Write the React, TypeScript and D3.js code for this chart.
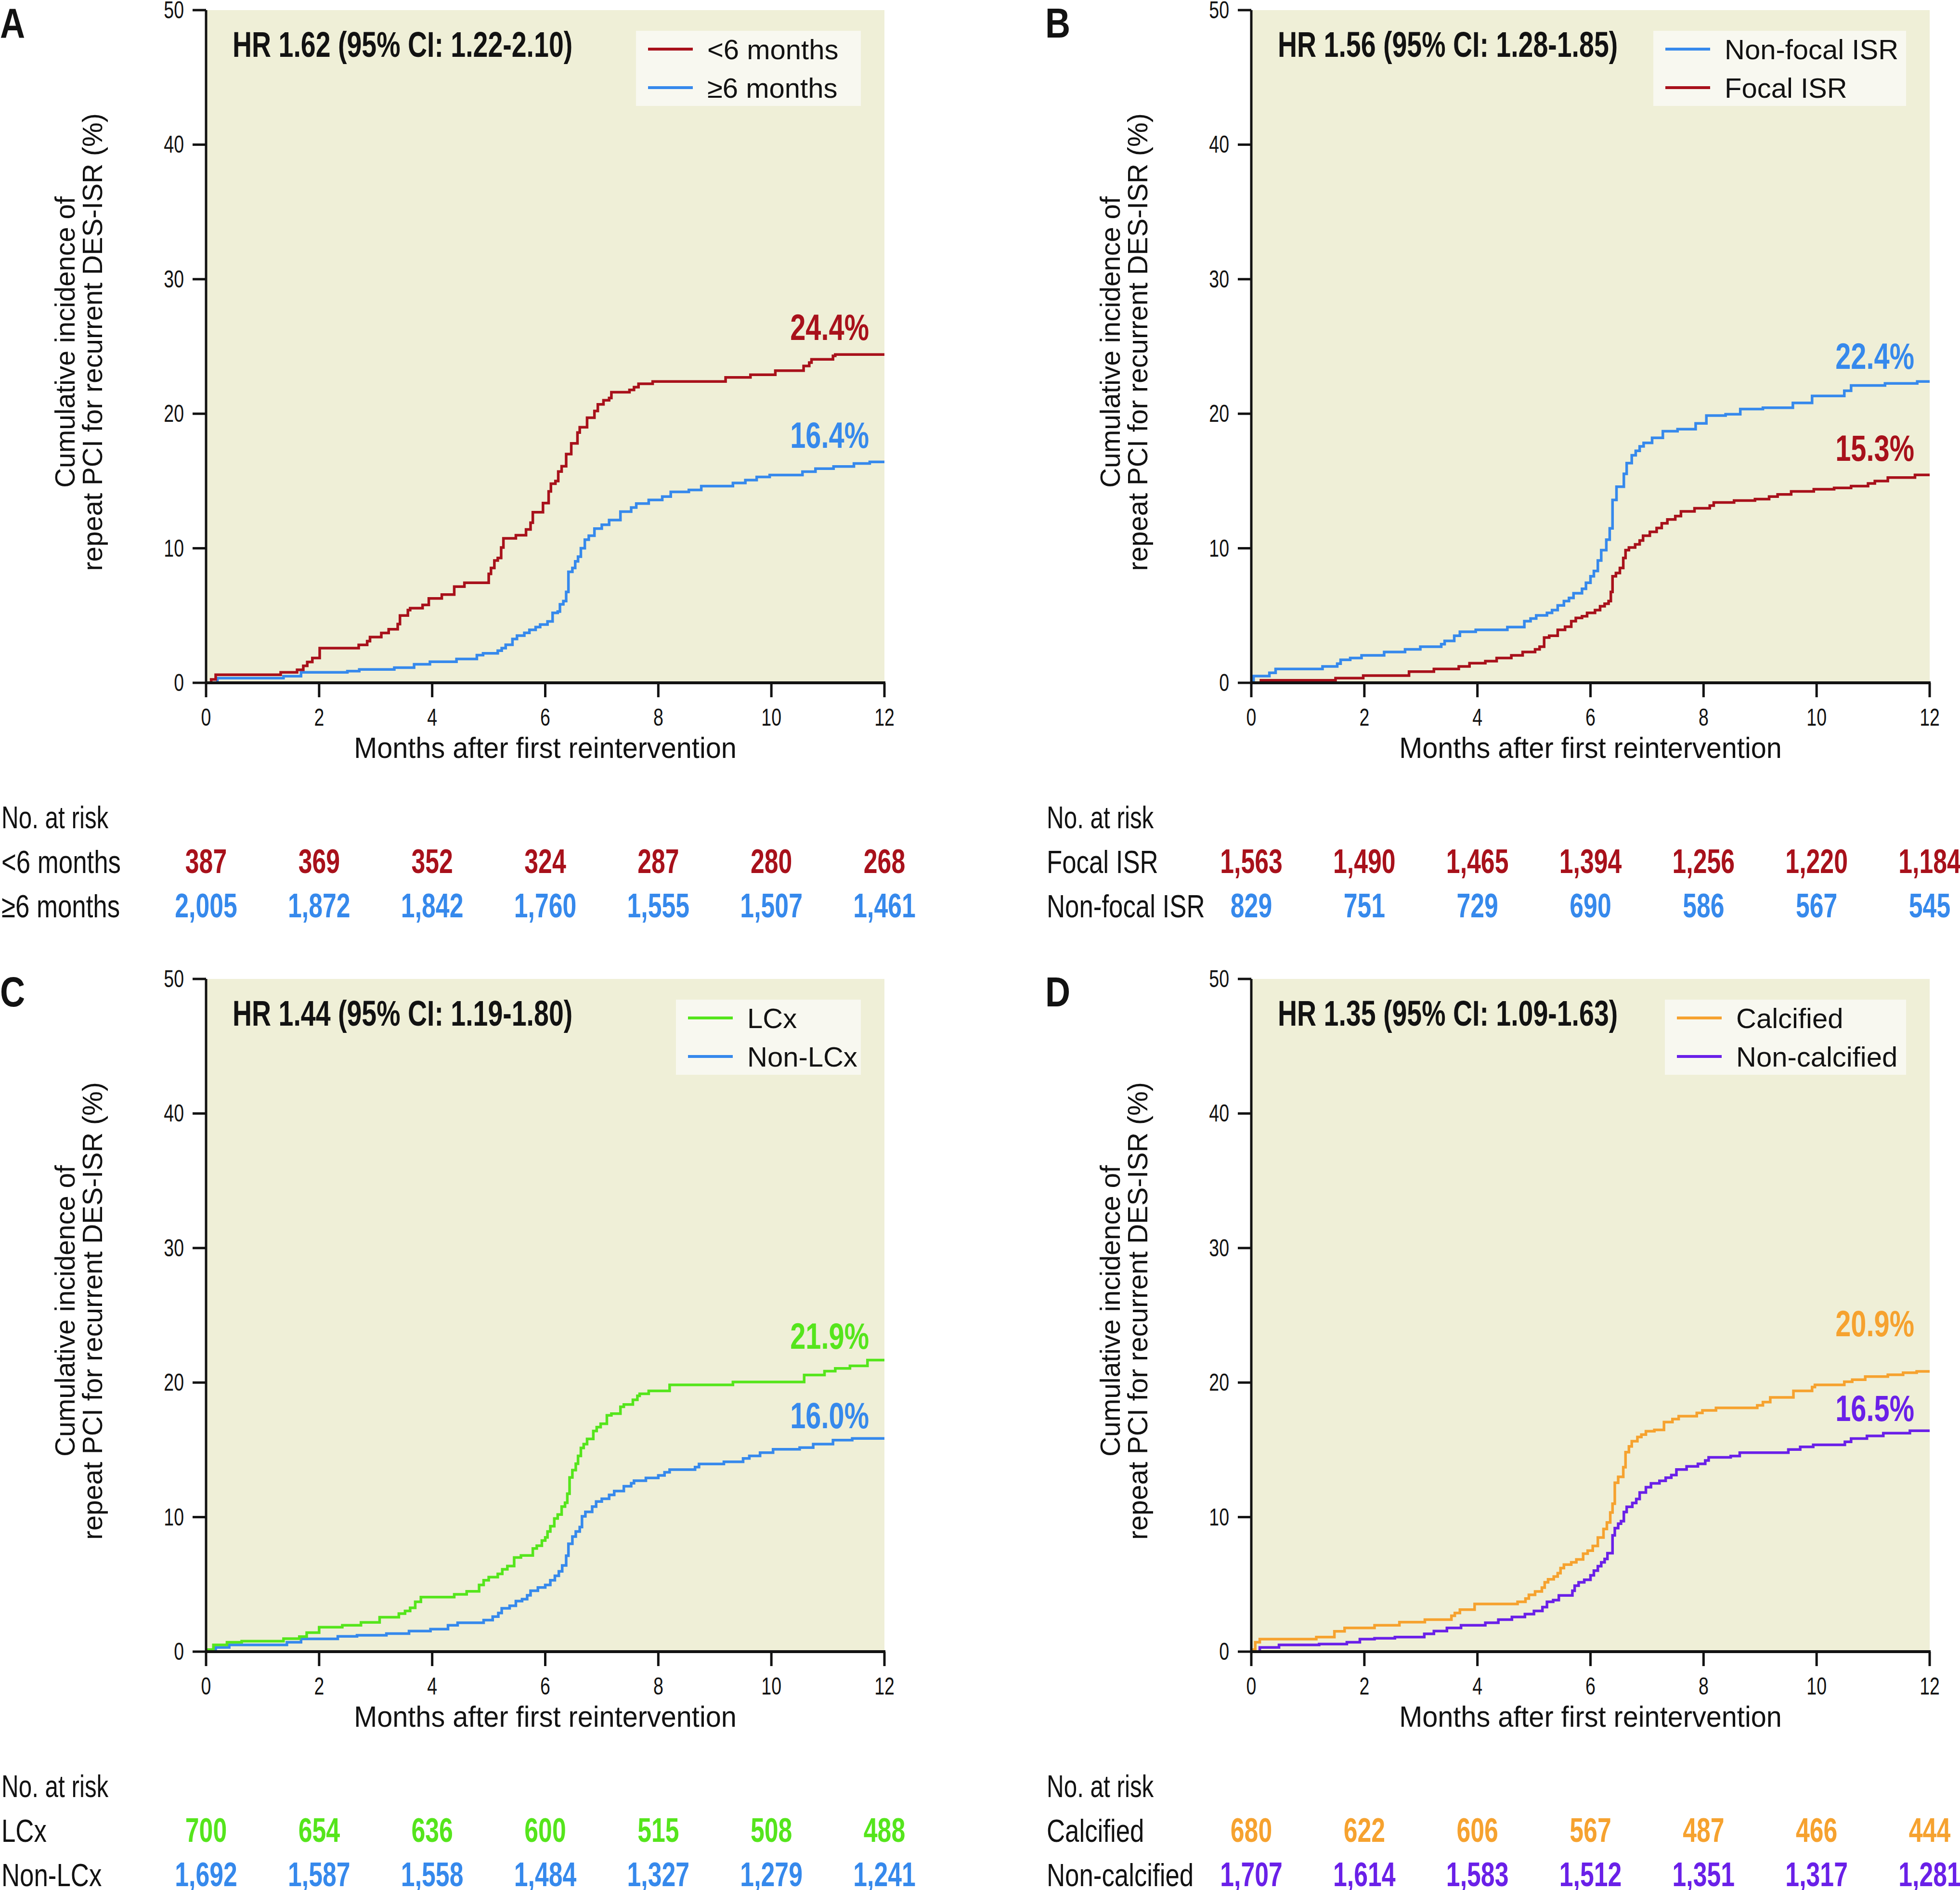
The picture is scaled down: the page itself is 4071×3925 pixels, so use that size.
import React from 'react';
import * as d3 from 'd3';

const W = 4071;
const H = 3925;
const FONT = '"Liberation Sans", Arial, Helvetica, sans-serif';

const RED = '#A8111B';
const BLUE = '#3689EC';
const GREEN = '#55E51C';
const ORANGE = '#F6A22F';
const PURPLE = '#6A20E8';
const BG = '#EFEFD7';
const LEGEND_BG = '#F8F8F0';
const INK = '#121212';

const yTicks = [0, 10, 20, 30, 40, 50];
const xTicks = [0, 2, 4, 6, 8, 10, 12];
const xTitle = 'Months after first reintervention';
const yTitle1 = 'Cumulative incidence of';
const yTitle2 = 'repeat PCI for recurrent DES-ISR (%)';

// ---------- Panel A ----------
const aLt6Steps: [number, number][] = [
  [0.09, 0.25], [0.17, 0.6], [1.32, 0.78], [1.61, 0.97], [1.72, 1.26], [1.79, 1.55], [1.88, 1.84], [2.01, 2.58],
  [2.7, 2.82], [2.85, 3.1], [2.9, 3.4], [3.1, 3.7], [3.23, 3.98], [3.39, 4.37], [3.43, 5.0], [3.57, 5.4],
  [3.61, 5.55], [3.83, 5.79], [3.94, 6.27], [4.17, 6.56], [4.39, 7.15], [4.57, 7.44], [5.0, 8.1], [5.04, 8.54],
  [5.1, 9.09], [5.16, 9.28], [5.22, 10.06], [5.26, 10.74], [5.48, 10.97], [5.66, 11.4], [5.74, 11.9], [5.78, 12.68],
  [5.96, 13.36], [6.06, 14.23], [6.1, 14.8], [6.18, 15.0], [6.23, 15.7], [6.29, 16.1], [6.37, 17.0], [6.46, 17.8],
  [6.57, 18.6], [6.61, 19.0], [6.74, 19.7], [6.87, 20.2], [6.93, 20.7], [7.03, 21.0], [7.13, 21.17], [7.17, 21.6],
  [7.49, 21.77], [7.57, 21.98], [7.65, 22.23], [7.9, 22.4], [9.19, 22.7], [9.63, 22.9], [10.07, 23.2], [10.57, 23.55],
  [10.67, 23.8], [10.71, 24.04], [11.09, 24.3], [11.13, 24.4],
];
const aGe6Steps: [number, number][] = [
  [0.2, 0.35], [1.37, 0.49], [1.68, 0.78], [2.5, 0.87], [2.71, 0.99], [3.33, 1.13], [3.68, 1.38], [3.96, 1.57],
  [4.43, 1.77], [4.79, 2.06], [4.9, 2.19], [5.16, 2.39], [5.23, 2.58], [5.3, 2.83], [5.42, 3.26], [5.5, 3.51],
  [5.63, 3.71], [5.72, 3.94], [5.83, 4.14], [5.91, 4.33], [6.04, 4.56], [6.13, 5.2], [6.22, 5.3], [6.26, 5.83],
  [6.32, 6.08], [6.37, 6.76], [6.41, 8.25], [6.48, 8.54], [6.53, 9.03], [6.58, 9.38], [6.63, 10.0], [6.7, 10.64],
  [6.77, 10.93], [6.87, 11.46], [7.0, 11.75], [7.13, 12.1], [7.33, 12.72], [7.52, 13.03], [7.61, 13.32], [7.83, 13.59],
  [8.07, 13.84], [8.22, 14.19], [8.54, 14.33], [8.76, 14.62], [9.32, 14.85], [9.54, 15.07], [9.74, 15.3], [9.97, 15.44],
  [10.55, 15.69], [10.78, 15.92], [11.1, 16.08], [11.46, 16.3], [11.74, 16.42],
];
const aRiskLt6 = [387, 369, 352, 324, 287, 280, 268];
const aRiskGe6 = [2005, 1872, 1842, 1760, 1555, 1507, 1461];

// ---------- Panel B ----------
const bNonFocalSteps: [number, number][] = [
  [0.04, 0.5], [0.32, 0.74], [0.43, 1.03], [1.26, 1.22], [1.52, 1.42], [1.58, 1.71], [1.75, 1.84], [1.95, 2.04],
  [2.35, 2.29], [2.72, 2.49], [2.99, 2.68], [3.36, 2.87], [3.42, 3.11], [3.59, 3.5], [3.69, 3.79], [3.97, 3.94],
  [4.53, 4.14], [4.83, 4.58], [4.94, 4.78], [5.04, 5.01], [5.23, 5.2], [5.32, 5.4], [5.42, 5.75], [5.53, 6.08],
  [5.62, 6.31], [5.7, 6.66], [5.85, 6.99], [5.92, 7.44], [6.0, 7.92], [6.06, 8.31], [6.13, 9.09], [6.19, 9.86],
  [6.28, 10.64], [6.34, 11.48], [6.39, 13.59], [6.46, 14.58], [6.59, 15.53], [6.64, 16.33], [6.73, 16.91], [6.8, 17.24],
  [6.87, 17.57], [6.94, 17.83], [7.09, 18.21], [7.28, 18.7], [7.54, 18.85], [7.86, 19.28], [8.05, 19.86], [8.39, 19.96],
  [8.65, 20.35], [9.05, 20.45], [9.58, 20.8], [9.92, 21.32], [10.49, 21.71], [10.61, 22.1], [11.21, 22.25], [11.78, 22.4],
];
const bFocalSteps: [number, number][] = [
  [0.17, 0.19], [1.49, 0.35], [1.98, 0.54], [2.79, 0.83], [3.23, 1.03], [3.67, 1.22], [3.86, 1.46], [4.14, 1.61],
  [4.34, 1.84], [4.6, 2.04], [4.8, 2.29], [5.02, 2.49], [5.1, 2.68], [5.18, 3.36], [5.27, 3.5], [5.42, 3.94],
  [5.55, 4.17], [5.66, 4.58], [5.74, 4.82], [5.85, 4.95], [5.94, 5.2], [6.08, 5.4], [6.17, 5.69], [6.25, 5.88],
  [6.32, 6.08], [6.36, 6.76], [6.39, 7.92], [6.45, 8.16], [6.52, 8.54], [6.58, 9.28], [6.62, 9.86], [6.68, 10.06],
  [6.79, 10.29], [6.87, 10.58], [6.93, 10.93], [7.05, 11.22], [7.17, 11.51], [7.26, 11.86], [7.36, 12.14], [7.5, 12.39],
  [7.6, 12.74], [7.84, 12.97], [8.11, 13.17], [8.18, 13.4], [8.54, 13.55], [8.91, 13.65], [9.16, 13.84], [9.31, 14.0],
  [9.55, 14.23], [9.95, 14.39], [10.31, 14.49], [10.61, 14.62], [10.91, 14.82], [11.03, 15.0], [11.26, 15.26], [11.74, 15.45],
];
const bRiskFocal = [1563, 1490, 1465, 1394, 1256, 1220, 1184];
const bRiskNonFocal = [829, 751, 729, 690, 586, 567, 545];

// ---------- Panel C ----------
const cLCxSteps: [number, number][] = [
  [0.03, 0.15], [0.13, 0.5], [0.37, 0.7], [0.63, 0.78], [1.37, 0.97], [1.65, 1.12], [1.78, 1.41], [2.0, 1.82],
  [2.41, 1.96], [2.74, 2.17], [3.07, 2.56], [3.41, 2.83], [3.52, 3.02], [3.61, 3.26], [3.7, 3.7], [3.8, 4.05],
  [4.39, 4.26], [4.61, 4.48], [4.83, 4.96], [4.91, 5.31], [5.0, 5.54], [5.16, 5.78], [5.24, 6.12], [5.33, 6.36],
  [5.45, 7.0], [5.57, 7.15], [5.78, 7.67], [5.85, 7.87], [5.94, 8.26], [6.0, 8.49], [6.04, 8.93], [6.09, 9.32],
  [6.16, 9.9], [6.22, 10.19], [6.29, 10.78], [6.35, 11.07], [6.39, 11.74], [6.43, 12.95], [6.48, 13.49], [6.54, 13.97],
  [6.58, 14.55], [6.63, 15.14], [6.68, 15.43], [6.74, 15.81], [6.85, 16.4], [6.91, 16.69], [6.98, 16.94], [7.09, 17.56],
  [7.17, 17.69], [7.33, 18.2], [7.39, 18.37], [7.55, 18.72], [7.63, 19.01], [7.67, 19.17], [7.83, 19.38], [8.2, 19.83],
  [9.32, 20.04], [10.58, 20.56], [10.94, 20.85], [11.13, 21.05], [11.39, 21.24], [11.7, 21.67],
];
const cNonLCxSteps: [number, number][] = [
  [0.17, 0.31], [0.41, 0.5], [1.43, 0.7], [1.68, 0.95], [2.33, 1.14], [2.67, 1.22], [3.19, 1.34], [3.59, 1.53],
  [3.97, 1.67], [4.28, 1.96], [4.45, 2.15], [4.91, 2.34], [5.07, 2.6], [5.17, 2.87], [5.23, 3.22], [5.37, 3.41],
  [5.48, 3.76], [5.59, 3.9], [5.68, 4.19], [5.74, 4.53], [5.87, 4.77], [6.0, 4.96], [6.09, 5.31], [6.17, 5.64],
  [6.24, 5.97], [6.3, 6.41], [6.37, 7.13], [6.41, 8.02], [6.48, 8.55], [6.54, 8.93], [6.61, 9.26], [6.65, 10.06],
  [6.71, 10.39], [6.83, 10.78], [6.9, 11.16], [7.0, 11.36], [7.13, 11.65], [7.22, 11.94], [7.39, 12.29], [7.52, 12.52],
  [7.57, 12.71], [7.78, 12.91], [8.0, 13.1], [8.11, 13.33], [8.2, 13.53], [8.65, 13.72], [8.72, 13.95], [9.16, 14.11],
  [9.5, 14.36], [9.61, 14.55], [9.8, 14.79], [10.03, 15.04], [10.5, 15.17], [10.74, 15.43], [11.09, 15.72], [11.43, 15.85],
];
const cRiskLCx = [700, 654, 636, 600, 515, 508, 488];
const cRiskNonLCx = [1692, 1587, 1558, 1484, 1327, 1279, 1241];

// ---------- Panel D ----------
const dCalcSteps: [number, number][] = [
  [0.02, 0.15], [0.07, 0.7], [0.15, 0.93], [1.15, 1.08], [1.47, 1.51], [1.65, 1.76], [2.18, 1.96], [2.62, 2.19],
  [3.07, 2.38], [3.54, 2.67], [3.6, 2.87], [3.69, 3.12], [3.95, 3.54], [4.71, 3.7], [4.85, 3.95], [4.91, 4.22],
  [5.02, 4.47], [5.14, 4.76], [5.19, 5.15], [5.25, 5.38], [5.35, 5.58], [5.42, 5.83], [5.47, 6.21], [5.53, 6.47],
  [5.66, 6.64], [5.75, 6.85], [5.87, 7.28], [5.95, 7.51], [6.04, 7.86], [6.13, 8.48], [6.23, 9.12], [6.29, 9.6],
  [6.35, 10.34], [6.39, 11.0], [6.43, 12.55], [6.49, 12.99], [6.58, 13.71], [6.62, 14.83], [6.68, 15.26], [6.73, 15.64],
  [6.83, 15.95], [6.9, 16.13], [6.98, 16.38], [7.13, 16.48], [7.3, 17.06], [7.45, 17.29], [7.56, 17.5], [7.88, 17.74],
  [7.98, 17.93], [8.22, 18.12], [8.95, 18.31], [9.05, 18.55], [9.18, 18.9], [9.59, 19.38], [9.92, 19.67], [9.97, 19.83],
  [10.49, 20.06], [10.63, 20.21], [10.86, 20.45], [11.26, 20.58], [11.53, 20.73], [11.77, 20.83],
];
const dNonCalcSteps: [number, number][] = [
  [0.15, 0.31], [0.49, 0.5], [1.2, 0.56], [1.69, 0.7], [1.92, 0.93], [2.18, 0.99], [2.54, 1.08], [3.06, 1.32],
  [3.23, 1.53], [3.46, 1.76], [3.71, 1.96], [4.14, 2.15], [4.37, 2.38], [4.61, 2.58], [4.84, 2.79], [5.0, 3.02],
  [5.15, 3.31], [5.23, 3.7], [5.34, 3.83], [5.44, 4.18], [5.68, 4.53], [5.72, 4.9], [5.79, 5.15], [5.89, 5.34],
  [6.0, 5.67], [6.06, 6.02], [6.13, 6.35], [6.19, 6.64], [6.25, 6.89], [6.3, 7.32], [6.39, 8.64], [6.43, 9.18],
  [6.49, 9.51], [6.54, 9.7], [6.59, 10.38], [6.64, 10.76], [6.74, 11.05], [6.81, 11.35], [6.87, 11.83], [6.98, 12.22],
  [7.07, 12.51], [7.22, 12.7], [7.33, 12.93], [7.43, 13.13], [7.52, 13.54], [7.7, 13.77], [7.9, 13.96], [8.03, 14.21],
  [8.09, 14.44], [8.48, 14.54], [8.64, 14.79], [9.5, 15.02], [9.71, 15.22], [9.94, 15.37], [10.5, 15.6], [10.61, 15.84],
  [10.89, 16.03], [11.18, 16.24], [11.65, 16.42],
];
const dRiskCalc = [680, 622, 606, 567, 487, 466, 444];
const dRiskNonCalc = [1707, 1614, 1583, 1512, 1351, 1317, 1281];

type Series = { name: string; color: string; steps: [number, number][]; endLabel: string; labelAt: number };
type RiskRow = { label: string; color: string; values: number[] };
type Panel = {
  letter: string; hr: string; left: number; top: number; legendWidth: number;
  series: Series[]; legend: Series[]; risk: RiskRow[];
};

const sALt6: Series = { name: '<6 months', color: RED, steps: aLt6Steps, endLabel: '24.4%', labelAt: 25.5 };
const sAGe6: Series = { name: '\u22656 months', color: BLUE, steps: aGe6Steps, endLabel: '16.4%', labelAt: 17.45 };
const sBNon: Series = { name: 'Non-focal ISR', color: BLUE, steps: bNonFocalSteps, endLabel: '22.4%', labelAt: 23.35 };
const sBFoc: Series = { name: 'Focal ISR', color: RED, steps: bFocalSteps, endLabel: '15.3%', labelAt: 16.5 };
const sCLCx: Series = { name: 'LCx', color: GREEN, steps: cLCxSteps, endLabel: '21.9%', labelAt: 22.5 };
const sCNon: Series = { name: 'Non-LCx', color: BLUE, steps: cNonLCxSteps, endLabel: '16.0%', labelAt: 16.6 };
const sDCal: Series = { name: 'Calcified', color: ORANGE, steps: dCalcSteps, endLabel: '20.9%', labelAt: 23.45 };
const sDNon: Series = { name: 'Non-calcified', color: PURPLE, steps: dNonCalcSteps, endLabel: '16.5%', labelAt: 17.15 };

const panels: Panel[] = [
  {
    letter: 'A', hr: 'HR 1.62 (95% CI: 1.22-2.10)', left: 428, top: 21, legendWidth: 467,
    series: [sAGe6, sALt6], legend: [sALt6, sAGe6],
    risk: [
      { label: '<6 months', color: RED, values: aRiskLt6 },
      { label: '\u22656 months', color: BLUE, values: aRiskGe6 },
    ],
  },
  {
    letter: 'B', hr: 'HR 1.56 (95% CI: 1.28-1.85)', left: 2599, top: 21, legendWidth: 525,
    series: [sBFoc, sBNon], legend: [sBNon, sBFoc],
    risk: [
      { label: 'Focal ISR', color: RED, values: bRiskFocal },
      { label: 'Non-focal ISR', color: BLUE, values: bRiskNonFocal },
    ],
  },
  {
    letter: 'C', hr: 'HR 1.44 (95% CI: 1.19-1.80)', left: 428, top: 2033, legendWidth: 384,
    series: [sCNon, sCLCx], legend: [sCLCx, sCNon],
    risk: [
      { label: 'LCx', color: GREEN, values: cRiskLCx },
      { label: 'Non-LCx', color: BLUE, values: cRiskNonLCx },
    ],
  },
  {
    letter: 'D', hr: 'HR 1.35 (95% CI: 1.09-1.63)', left: 2599, top: 2033, legendWidth: 501,
    series: [sDNon, sDCal], legend: [sDCal, sDNon],
    risk: [
      { label: 'Calcified', color: ORANGE, values: dRiskCalc },
      { label: 'Non-calcified', color: PURPLE, values: dRiskNonCalc },
    ],
  },
];

const PW = 1409;
const PH = 1397;
const fmt = d3.format(',');

function CText(props: {
  x: number; y: number; sx: number; size: number; anchor?: string; weight?: number | string;
  fill?: string; children: React.ReactNode;
}) {
  const { x, y, sx, size, anchor = 'start', weight = 400, fill = INK, children } = props;
  return (
    <text
      transform={`translate(${x},${y}) scale(${sx},1)`}
      textAnchor={anchor}
      fontSize={size}
      fontWeight={weight}
      fill={fill}
      fontFamily={FONT}
    >
      {children}
    </text>
  );
}

function PanelView({ p }: { p: Panel }) {
  const x = d3.scaleLinear().domain([0, 12]).range([p.left, p.left + PW]);
  const y = d3.scaleLinear().domain([0, 50]).range([p.top + PH, p.top]);
  const y0 = y(0);
  const right = x(12);
  const line = d3
    .line<[number, number]>()
    .x((d) => x(d[0]))
    .y((d) => y(d[1]))
    .curve(d3.curveStepAfter);
  const origin = p.left - 428;

  const legendFont = 58;
  const boxW = p.legendWidth;
  const boxRight = right - 49;
  const boxLeft = boxRight - boxW;
  const boxTop = p.top + 43;

  return (
    <g>
      <rect x={p.left} y={p.top} width={PW} height={PH} fill={BG} />
      {/* legend */}
      <rect x={boxLeft} y={boxTop} width={boxW} height={156} fill={LEGEND_BG} />
      {p.legend.map((s, i) => {
        const cy = p.top + 81 + i * 80;
        return (
          <g key={s.name}>
            <line x1={boxLeft + 25} x2={boxLeft + 118} y1={cy} y2={cy} stroke={s.color} strokeWidth={6} />
            <text x={boxLeft + 148} y={cy + 21} fontSize={legendFont} fontFamily={FONT} fill={INK}>
              {s.name}
            </text>
          </g>
        );
      })}
      {/* HR text */}
      <CText x={p.left + 55} y={p.top + 97} sx={0.75} size={74} weight={700}>
        {p.hr}
      </CText>
      {/* curves */}
      {p.series.map((s) => {
        const last = s.steps[s.steps.length - 1];
        const pts: [number, number][] = [[0, 0], ...s.steps, [12, last[1]]];
        return (
          <path
            key={s.name}
            d={line(pts) || ''}
            fill="none"
            stroke={s.color}
            strokeWidth={5.5}
            strokeLinejoin="miter"
            strokeLinecap="butt"
          />
        );
      })}
      {/* end labels */}
      {p.series.map((s) => (
        <CText key={s.name + 'lbl'} x={right - 32} y={y(s.labelAt)} sx={0.76} size={76} weight={700} anchor="end" fill={s.color}>
          {s.endLabel}
        </CText>
      ))}
      {/* axes */}
      <line x1={p.left} x2={p.left} y1={p.top} y2={y0 + 2} stroke={INK} strokeWidth={5} />
      <line x1={p.left - 2} x2={right + 2} y1={y0} y2={y0} stroke={INK} strokeWidth={6} />
      {yTicks.map((t) => (
        <g key={'y' + t}>
          <line x1={p.left - 28} x2={p.left} y1={y(t)} y2={y(t)} stroke={INK} strokeWidth={5} />
          <CText x={p.left - 46} y={y(t) + 17} sx={0.75} size={50} anchor="end">
            {t}
          </CText>
        </g>
      ))}
      {xTicks.map((t) => (
        <g key={'x' + t}>
          <line x1={x(t)} x2={x(t)} y1={y0} y2={y0 + 30} stroke={INK} strokeWidth={5} />
          <CText x={x(t)} y={y0 + 89} sx={0.75} size={50} anchor="middle">
            {t}
          </CText>
        </g>
      ))}
      {/* axis titles */}
      <CText x={(p.left + right) / 2} y={y0 + 156} sx={0.93} size={62} anchor="middle">
        {xTitle}
      </CText>
      <g transform={`translate(${p.left - 273},${(p.top + y0) / 2 - 9}) rotate(-90)`}>
        <text x={0} y={0} textAnchor="middle" fontSize={57} fontFamily={FONT} fill={INK}>
          {yTitle1}
        </text>
        <text x={0} y={57} textAnchor="middle" fontSize={57} fontFamily={FONT} fill={INK}>
          {yTitle2}
        </text>
      </g>
      {/* panel letter */}
      <CText x={origin} y={p.top + 57} sx={0.82} size={88} weight={700}>
        {p.letter}
      </CText>
      {/* risk table */}
      <CText x={origin + 3} y={y0 + 302} sx={0.76} size={65}>
        No. at risk
      </CText>
      {p.risk.map((r, i) => (
        <g key={r.label}>
          <CText x={origin + 3} y={y0 + 395 + i * 92} sx={0.8} size={66}>
            {r.label}
          </CText>
          {r.values.map((v, j) => (
            <CText key={j} x={x(xTicks[j])} y={y0 + 395 + i * 92} sx={0.74} size={70} weight={700} anchor="middle" fill={r.color}>
              {fmt(v)}
            </CText>
          ))}
        </g>
      ))}
    </g>
  );
}

export default function App() {
  return (
    <svg
      width={W}
      height={H}
      viewBox={`0 0 ${W} ${H}`}
      style={{ position: 'absolute', left: 0, top: 0, background: '#fff' }}
    >
      <rect x={0} y={0} width={W} height={H} fill="#fff" />
      {panels.map((p) => (
        <PanelView key={p.letter} p={p} />
      ))}
    </svg>
  );
}
